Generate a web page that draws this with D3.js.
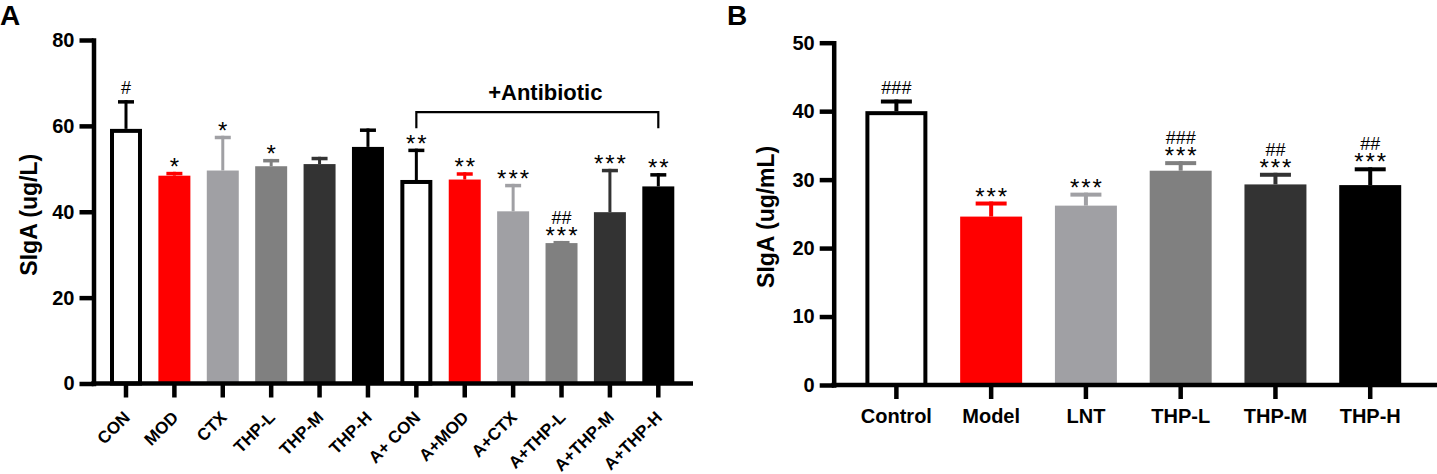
<!DOCTYPE html>
<html>
<head>
<meta charset="utf-8">
<script src="https://cdn.jsdelivr.net/npm/d3@7"></script>
<style>
  body { margin: 0; background: #fff; }
  text { font-family: Arial, "Liberation Sans", sans-serif; fill: #000; }
</style>
</head>
<body>
<svg id="chart" width="1437" height="474"></svg>
<script>
// ---- panel A data ----
const groupsA = ["CON", "MOD", "CTX", "THP-L", "THP-M", "THP-H",
                 "A+ CON", "A+MOD", "A+CTX", "A+THP-L", "A+THP-M", "A+THP-H"];
const meansA = [59.3, 48.4, 49.6, 50.6, 51.1, 55.1, 47.4, 47.5, 40.1, 32.7, 39.9, 45.9];
const sdA    = [6.7, 0.9, 8.1, 1.7, 1.7, 4.3, 7.3, 1.7, 6.4, 0.5, 10.1, 3.1];
const starsA = ["", "*", "*", "*", "", "", "**", "**", "***", "***", "***", "**"];
const hashA  = ["#", "", "", "", "", "", "", "", "", "##", "", ""];
const ticksA = [0, 20, 40, 60, 80];

// ---- panel B data ----
const groupsB = ["Control", "Model", "LNT", "THP-L", "THP-M", "THP-H"];
const meansB = [40.0, 24.6, 26.2, 31.3, 29.3, 29.2];
const sdB    = [1.7, 2.2, 1.9, 1.4, 1.7, 2.6];
const starsB = ["", "***", "***", "***", "***", "***"];
const hashB  = ["###", "", "", "###", "##", "##"];
const ticksB = [0, 10, 20, 30, 40, 50];

const palette = ["#ffffff", "#ff0000", "#a0a0a4", "#808080", "#333333", "#000000"];

const svg = d3.select("#chart");
const axisW = 4.5;
const starGap = 2;

function translate(x, y) {
  return "translate(" + x + "," + y + ")";
}

function panel(opts) {
  const g = svg.append("g");
  const x = d3.scaleBand()
    .domain(opts.groups)
    .range(opts.xRange)
    .paddingInner(opts.pad)
    .paddingOuter(opts.pad / 2);
  const y = d3.scaleLinear()
    .domain([0, d3.max(opts.ticks)])
    .range(opts.yRange);
  const bw = x.bandwidth();
  const colour = i => palette[i % palette.length];
  const edge = i => (i % palette.length === 0 ? "#000" : colour(i));
  const hollow = i => i % palette.length === 0;

  const rows = opts.groups.map((k, i) => ({
    k: k, m: opts.means[i], sd: opts.sd[i], s: opts.stars[i], h: opts.hash[i], i: i
  }));

  // bars (open bars get their outline drawn inside the band)
  g.append("g").selectAll("rect")
    .data(rows)
    .join("rect")
    .attr("x", d => x(d.k) + (hollow(d.i) ? opts.sw / 2 : 0))
    .attr("y", d => y(d.m) + (hollow(d.i) ? opts.sw / 2 : 0))
    .attr("width", d => bw - (hollow(d.i) ? opts.sw : 0))
    .attr("height", d => y(0) - y(d.m) - (hollow(d.i) ? opts.sw / 2 : 0))
    .attr("fill", d => colour(d.i))
    .attr("stroke", d => hollow(d.i) ? "#000" : "none")
    .attr("stroke-width", opts.sw);

  // error bars (upper only)
  const eb = g.append("g").selectAll("g")
    .data(rows)
    .join("g");
  eb.append("line")
    .attr("x1", d => x(d.k) + bw / 2)
    .attr("x2", d => x(d.k) + bw / 2)
    .attr("y1", d => y(d.m))
    .attr("y2", d => y(d.m + d.sd))
    .attr("stroke", d => edge(d.i))
    .attr("stroke-width", opts.stem);
  eb.append("rect")
    .attr("x", d => x(d.k) + bw / 4)
    .attr("y", d => y(d.m + d.sd))
    .attr("width", bw / 2)
    .attr("height", opts.cap)
    .attr("fill", d => edge(d.i));

  // significance marks
  const starBase = d => y(d.m + d.sd) + 3;
  g.append("g").selectAll("text")
    .data(rows.filter(d => d.s))
    .join("text")
    .attr("x", d => x(d.k) + bw / 2 + starGap / 2)
    .attr("y", starBase)
    .attr("text-anchor", "middle")
    .attr("font-size", 24)
    .attr("letter-spacing", starGap)
    .text(d => d.s);
  g.append("g").selectAll("text")
    .data(rows.filter(d => d.h))
    .join("text")
    .attr("x", d => x(d.k) + bw / 2)
    .attr("y", d => d.s ? starBase(d) - 20 : y(d.m + d.sd) - 6)
    .attr("text-anchor", "middle")
    .attr("font-size", 18)
    .text(d => d.h);

  // y axis
  const ax = g.append("g")
    .attr("transform", translate(opts.axisX, 0))
    .call(d3.axisLeft(y).tickValues(opts.ticks).tickSize(14).tickSizeOuter(0).tickPadding(5));
  ax.select(".domain").attr("stroke-width", axisW).attr("stroke-linecap", "square");
  ax.selectAll(".tick line").attr("stroke-width", axisW);
  ax.selectAll(".tick text")
    .attr("font-size", 20).attr("font-weight", "bold")
    .attr("font-family", "Arial, 'Liberation Sans', sans-serif");

  // x axis
  const bx = g.append("g")
    .attr("transform", translate(0, y(0)))
    .call(d3.axisBottom(x).tickSize(14).tickSizeOuter(0));
  bx.select(".domain").remove();
  bx.selectAll(".tick line").attr("stroke-width", axisW);
  bx.selectAll(".tick text")
    .attr("font-weight", "bold")
    .attr("font-family", "Arial, 'Liberation Sans', sans-serif");
  g.append("line")
    .attr("x1", opts.axisX - axisW / 2)
    .attr("x2", opts.xEnd)
    .attr("y1", y(0)).attr("y2", y(0))
    .attr("stroke", "#000")
    .attr("stroke-width", axisW);

  // y title
  g.append("text")
    .attr("transform", translate(opts.titleX, (y(0) + y(d3.max(opts.ticks))) / 2 + 3) + " rotate(-90)")
    .attr("text-anchor", "middle")
    .attr("font-size", 23)
    .attr("font-weight", "bold")
    .text(opts.yTitle);

  // panel letter
  g.append("text")
    .attr("x", opts.letterX)
    .attr("y", 25)
    .attr("font-size", 28)
    .attr("font-weight", "bold")
    .text(opts.letter);

  return { g: g, x: x, y: y, bx: bx };
}

// ---- panel A ----
const A = panel({
  groups: groupsA, means: meansA, sd: sdA, stars: starsA, hash: hashA, ticks: ticksA,
  xRange: [101.8, 682.5], pad: 0.339, yRange: [383.5, 40], axisX: 93.5, xEnd: 693,
  sw: 4, stem: 3, cap: 3.5, titleX: 37, yTitle: "SIgA (ug/L)", letter: "A", letterX: 0
});
A.bx.selectAll(".tick text")
  .attr("font-size", 17)
  .attr("x", 0).attr("y", 0).attr("dy", 0)
  .attr("text-anchor", "end")
  .attr("transform", "translate(5,35) rotate(-45)");

// +Antibiotic bracket
const bracketLevel = 63.2;
const bx0 = A.x("A+ CON") + A.x.bandwidth() / 2;
const bx1 = A.x("A+THP-H") + A.x.bandwidth() / 2;
const byv = A.y(bracketLevel);
A.g.append("path")
  .attr("d", "M" + bx0 + "," + (byv + 16) + "V" + byv + "H" + bx1 + "V" + (byv + 16))
  .attr("fill", "none")
  .attr("stroke", "#000")
  .attr("stroke-width", 2.2);
A.g.append("text")
  .attr("x", (bx0 + bx1) / 2 + 8)
  .attr("y", byv - 12)
  .attr("text-anchor", "middle")
  .attr("font-size", 22)
  .attr("font-weight", "bold")
  .text("+Antibiotic");

// ---- panel B ----
const B = panel({
  groups: groupsB, means: meansB, sd: sdB, stars: starsB, hash: hashB, ticks: ticksB,
  xRange: [849, 1417.6], pad: 0.346, yRange: [385, 42.7], axisX: 833.7, xEnd: 1437,
  sw: 4, stem: 4, cap: 4, titleX: 774, yTitle: "SIgA (ug/mL)", letter: "B", letterX: 727
});
B.bx.selectAll(".tick text")
  .attr("font-size", 20)
  .attr("y", 0).attr("dy", 0)
  .attr("transform", translate(0, 38));
</script>
</body>
</html>
